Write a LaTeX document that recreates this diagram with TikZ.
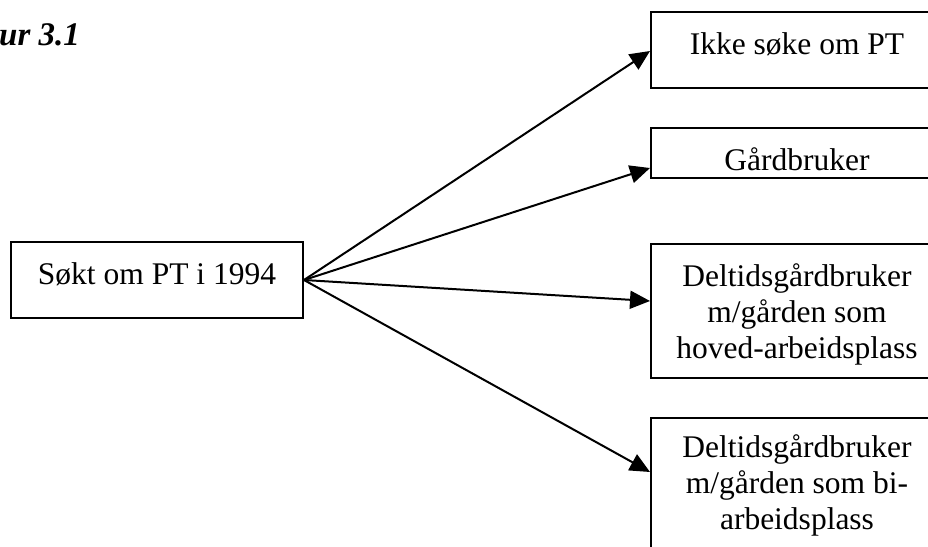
\documentclass[tikz,border=0pt]{standalone}
\usepackage{fontspec}
\setmainfont{Liberation Serif}
\usetikzlibrary{arrows.meta}
\begin{document}
\begin{tikzpicture}[x=1pt,y=-1pt]
\tikzstyle{every node}+=[inner sep=0pt]
\tikzstyle{box}=[draw, line width=2pt, anchor=north west, minimum width=292pt, align=center, font=\fontsize{31.5}{36}\selectfont]
\tikzstyle{pil}=[line width=2pt, -{Triangle[length=20pt,width=18pt]}]
\useasboundingbox (0,0) rectangle (928,546);
\node [anchor=base west, font=\bfseries\itshape\fontsize{33}{36}\selectfont] (tittel) at (-1,45) {ur 3.1};
\node [box, text height=42pt, text depth=34pt] (sokt) at (10,241) {Søkt om PT i 1994};
\node [box, text height=42pt, text depth=34pt] (ikke) at (650,11) {Ikke søke om PT};
\node [box, text height=42pt, text depth=8pt] (gard) at (650,127) {Gårdbruker};
\node [box, text height=114pt, text depth=20pt] (hoved) at (650,243) {Deltidsgårdbruker\\m/gården som\\hoved-arbeidsplass};
\node [box, text height=111pt, text depth=29pt] (bi) at (650,417) {Deltidsgårdbruker\\m/gården som bi-\\arbeidsplass};
\draw [pil] (sokt.east) -- ([yshift=-1pt]ikke.west);
\draw [pil] (sokt.east) -- ([yshift=-15pt]gard.west);
\draw [pil] (sokt.east) -- ([yshift=10pt]hoved.west);
\draw [pil] (sokt.east) -- ([yshift=16pt]bi.west);
\end{tikzpicture}
\end{document}
